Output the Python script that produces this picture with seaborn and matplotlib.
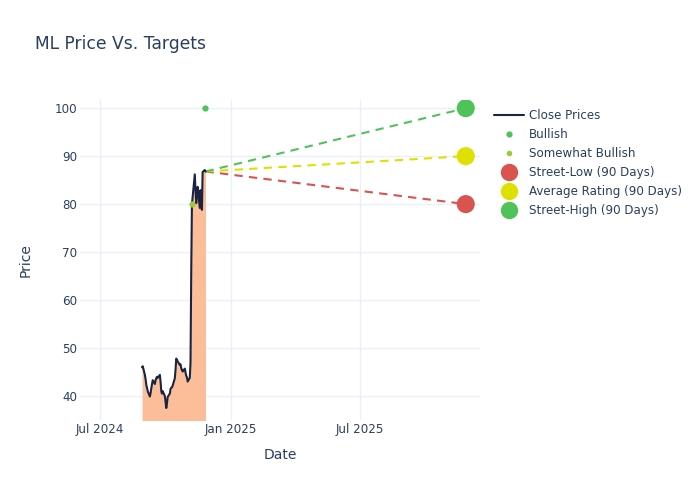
import matplotlib
matplotlib.use("Agg")
import matplotlib.pyplot as plt
import matplotlib.dates as mdates
from matplotlib.lines import Line2D
import seaborn as sns
import pandas as pd
import numpy as np

# ---- data ----
price_dates = pd.bdate_range("2024-08-29", "2024-11-26")
close_prices = [46.0, 46.2, 44.4, 43.5, 42.3, 41.7, 41.0,
                39.9, 40.6, 41.6, 42.5, 43.3,
                42.5, 43.3, 43.7, 44.0, 43.8,
                44.4, 43.0, 41.0, 40.5, 41.0,
                40.0, 38.8, 37.5, 38.5, 39.8,
                40.5, 41.5, 41.7, 41.8, 42.2,
                43.7, 45.5, 47.8, 47.5, 47.2,
                46.5, 46.6, 45.8, 45.4, 45.1,
                45.7, 44.9, 44.2, 43.9, 43.0,
                43.8, 47.0, 66.0, 80.0, 81.5,
                86.2, 83.0, 80.2, 82.0, 83.6,
                79.2, 82.9, 80.5, 78.8, 86.7,
                87.1, 86.8]

bullish_dates = ["2024-11-25"]
bullish_values = [100.0]
somewhat_bullish_dates = ["2024-11-07"]
somewhat_bullish_values = [80.0]

target_date = "2025-11-26"
target_labels = ["Street-Low (90 Days)", "Average Rating (90 Days)", "Street-High (90 Days)"]
target_values = [80.0, 90.0, 100.0]
target_colors = ["#d9534f", "#e0e000", "#4fc35a"]

x_ticks = ["2024-07-01", "2025-01-01", "2025-07-01"]
x_tick_labels = ["Jul 2024", "Jan 2025", "Jul 2025"]
y_ticks = [40, 50, 60, 70, 80, 90, 100]

TEXT = "#2a3f5f"
GRID = "#ebf0f8"

df = pd.DataFrame({"Date": price_dates[:len(close_prices)], "Price": close_prices})

sns.set_theme(style="white")
plt.rcParams["font.family"] = ["DejaVu Sans"]

fig = plt.figure(figsize=(7, 5), dpi=100)
ax = fig.add_axes([80 / 700, 80 / 500, 400 / 700, 320 / 500])

# fill under price
ax.fill_between(df["Date"], df["Price"], 0, color="#fbbe99", linewidth=0, zorder=1)
sns.lineplot(data=df, x="Date", y="Price", ax=ax, color="#1a2340", linewidth=1.5, zorder=3)

# dashed target lines
last_date = df["Date"].iloc[-1]
last_price = df["Price"].iloc[-1]
for val, col in zip(target_values, target_colors):
    seg = pd.DataFrame({"Date": [last_date, pd.Timestamp(target_date)], "Price": [last_price, val]})
    sns.lineplot(data=seg, x="Date", y="Price", ax=ax, color=col, linewidth=1.5,
                 linestyle=(0, (4, 3)), zorder=2)

# analyst rating markers
sns.scatterplot(x=pd.to_datetime(bullish_dates), y=bullish_values, ax=ax,
                color="#4fc35a", s=20, linewidth=0, zorder=4)
sns.scatterplot(x=pd.to_datetime(somewhat_bullish_dates), y=somewhat_bullish_values, ax=ax,
                color="#9acd32", s=20, linewidth=0, zorder=4)

# target markers
tdf = pd.DataFrame({"Date": [pd.Timestamp(target_date)] * 3, "Price": target_values, "Label": target_labels})
sns.scatterplot(data=tdf, x="Date", y="Price", hue="Label", palette=dict(zip(target_labels, target_colors)),
                ax=ax, s=170, linewidth=0, legend=False, zorder=5)

ax.set_xlim(pd.Timestamp("2024-06-03"), pd.Timestamp("2025-12-16"))
ax.set_ylim(35, 101.7)
ax.set_xticks(pd.to_datetime(x_ticks))
ax.set_xticklabels(x_tick_labels)
ax.set_yticks(y_ticks)
ax.grid(True, color=GRID, linewidth=1)
ax.set_axisbelow(True)
for s in ax.spines.values():
    s.set_visible(False)
ax.tick_params(axis="both", length=0, labelsize=8.6, colors=TEXT)
ax.tick_params(axis="x", pad=2)
ax.tick_params(axis="y", pad=2)
ax.set_xlabel("Date", fontsize=10, color=TEXT, labelpad=9)
ax.set_ylabel("Price", fontsize=10, color=TEXT, labelpad=16)

fig.text(35 / 700, 1 - 44 / 500, "ML Price Vs. Targets", fontsize=12.3, color=TEXT, va="center", ha="left")

handles = [
    Line2D([0], [0], color="#1a2340", linewidth=1.5),
    Line2D([0], [0], marker="o", color="none", markerfacecolor="#4fc35a", markeredgewidth=0, markersize=4.5),
    Line2D([0], [0], marker="o", color="none", markerfacecolor="#9acd32", markeredgewidth=0, markersize=4),
] + [Line2D([0], [0], marker="o", color="none", markerfacecolor=c, markeredgewidth=0, markersize=12.5)
     for c in target_colors]
labels = ["Close Prices", "Bullish", "Somewhat Bullish"] + target_labels
leg = fig.legend(handles, labels, loc="upper left", bbox_to_anchor=(494 / 700, 1 - 109 / 500),
                 frameon=False, fontsize=8.6, handlelength=2.5, handletextpad=0.45,
                 labelspacing=0.5, borderaxespad=0, borderpad=0)
for t in leg.get_texts():
    t.set_color(TEXT)

fig.savefig("out.png", dpi=100, facecolor="white")
